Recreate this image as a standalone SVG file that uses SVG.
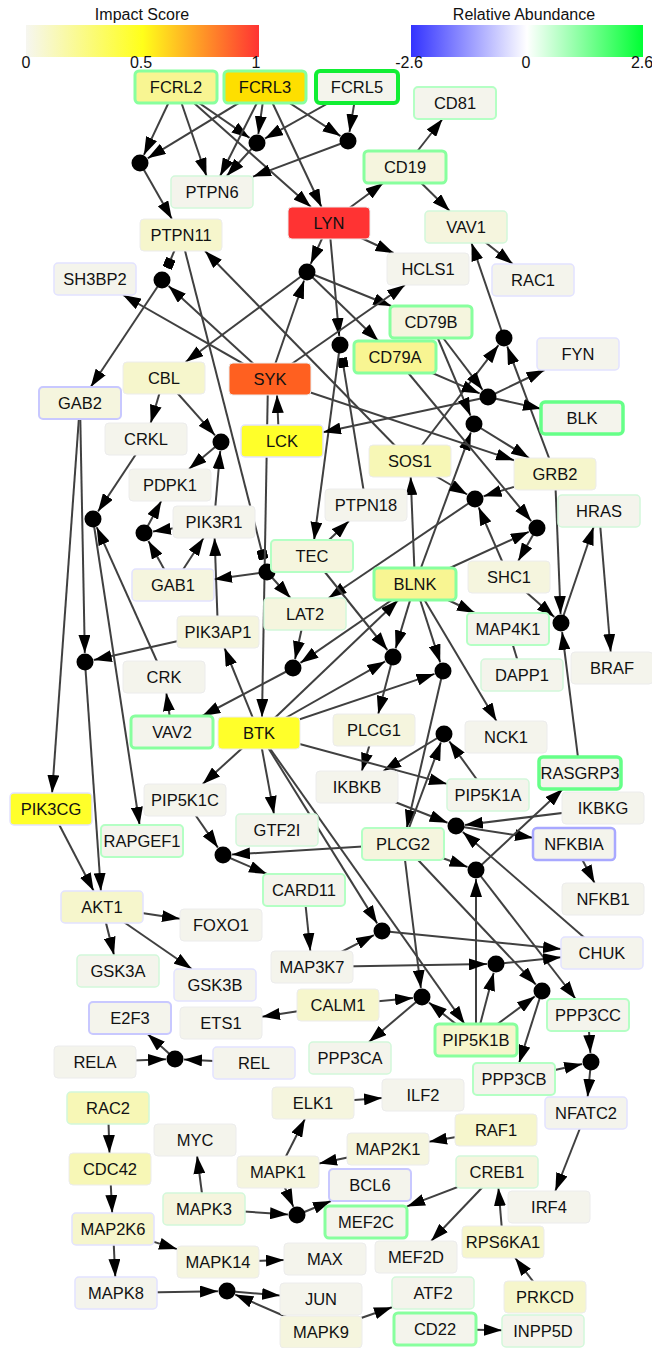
<svg xmlns="http://www.w3.org/2000/svg" width="652" height="1348" viewBox="0 0 652 1348">
<defs>
<linearGradient id="gImpact" x1="0" y1="0" x2="1" y2="0"><stop offset="0" stop-color="#f6f6f0"/><stop offset="0.5" stop-color="#ffff1a"/><stop offset="1" stop-color="#ff3333"/></linearGradient>
<linearGradient id="gAbund" x1="0" y1="0" x2="1" y2="0"><stop offset="0" stop-color="#3333ff"/><stop offset="0.5" stop-color="#ffffff"/><stop offset="1" stop-color="#00ff33"/></linearGradient>
<marker id="a" viewBox="0 0 18 12" refX="18" refY="6" markerWidth="18" markerHeight="12" markerUnits="userSpaceOnUse" orient="auto"><path d="M0,0 L18,6 L0,12 z" fill="#000"/></marker>
<marker id="sq" viewBox="-10 -5 10 10" refX="0" refY="0" markerWidth="10" markerHeight="10" markerUnits="userSpaceOnUse" orient="auto"><rect x="-10" y="-5" width="10" height="10" fill="#000"/></marker>
</defs>
<style>
text{font-family:"Liberation Sans",Arial,sans-serif;fill:#111}
.lg{font-size:16px;text-anchor:middle}
.node text{font-size:16.5px;text-anchor:middle}
.e line{stroke:#404040;stroke-width:2;fill:none;marker-end:url(#a)}
.e line.s{marker-end:url(#sq)}
.e line.n{marker-end:none}
.e circle{fill:#000}
.node rect{rx:4;ry:4}
.f0{fill:#f4f4ec}.fb{fill:#f5f5de}.fc{fill:#f6f6cc}.fd{fill:#f7f7b6}.fy{fill:#f8f592}.fg{fill:#fedf00}.fY{fill:#ffff2a}.fo{fill:#ff6020}.fr{fill:#ff3333}
.b0{stroke:#ececec;stroke-width:1}
.g1{stroke:#d2f8da;stroke-width:1.5}
.g2{stroke:#b4ffc4;stroke-width:2}
.g3{stroke:#88ff9e;stroke-width:3}
.g4{stroke:#66ff88;stroke-width:3.5}
.g5{stroke:#11ee33;stroke-width:4}
.u1{stroke:#e2e2ff;stroke-width:1.5}
.u2{stroke:#c8c8ff;stroke-width:2}
.u3{stroke:#a8a8ff;stroke-width:2.5}
</style>
<rect x="0" y="0" width="652" height="1348" fill="#ffffff"/>
<g id="legend">
<text class="lg" x="142" y="20">Impact Score</text>
<rect x="26" y="25" width="233" height="32" fill="url(#gImpact)"/>
<text class="lg" x="26" y="68">0</text>
<text class="lg" x="141" y="68">0.5</text>
<text class="lg" x="256" y="68">1</text>
<text class="lg" x="524" y="20">Relative Abundance</text>
<rect x="411" y="25" width="232" height="32" fill="url(#gAbund)"/>
<text class="lg" x="409" y="68">-2.6</text>
<text class="lg" x="526" y="68">0</text>
<text class="lg" x="642" y="68">2.6</text>
</g>
<g id="connectors" class="e">
<line x1="176" y1="87" x2="143.9" y2="154.9"/>
<line x1="265" y1="87" x2="147.7" y2="158.3"/>
<line x1="140" y1="163" x2="171.9" y2="219"/>
<line x1="176" y1="87" x2="206.5" y2="176"/>
<line x1="176" y1="87" x2="249.6" y2="137.9"/>
<line x1="176" y1="87" x2="311" y2="207"/>
<line x1="265" y1="87" x2="258.3" y2="134.1"/>
<line x1="265" y1="87" x2="220.1" y2="176"/>
<line x1="257" y1="143" x2="226.7" y2="176"/>
<line x1="265" y1="87" x2="321.5" y2="207"/>
<line x1="265" y1="87" x2="340.5" y2="136.1"/>
<line x1="357" y1="87" x2="264.9" y2="138.6"/>
<line x1="357" y1="87" x2="349.5" y2="132.1"/>
<line x1="348" y1="141" x2="253" y2="176.6"/>
<line x1="329" y1="223" x2="383.3" y2="183"/>
<line x1="405" y1="167" x2="442.5" y2="119"/>
<line x1="405" y1="167" x2="449.7" y2="211"/>
<line x1="466" y1="227" x2="512.8" y2="264"/>
<line x1="329" y1="223" x2="393.6" y2="253"/>
<line x1="329" y1="223" x2="310.7" y2="263.8"/>
<line x1="329" y1="223" x2="339.2" y2="336"/>
<line x1="504" y1="338" x2="471.5" y2="243"/>
<line x1="270" y1="379" x2="123" y2="295"/>
<line x1="270" y1="379" x2="168.6" y2="286.1"/>
<line class="s" x1="181" y1="235" x2="167.1" y2="268"/>
<line x1="162" y1="280" x2="90.7" y2="387"/>
<line x1="270" y1="379" x2="304.1" y2="280.5"/>
<line x1="307" y1="272" x2="185.6" y2="362"/>
<line x1="307" y1="272" x2="391.3" y2="306"/>
<line x1="307" y1="272" x2="378.4" y2="341"/>
<line x1="270" y1="379" x2="405" y2="285"/>
<line class="s" x1="366" y1="505" x2="342.1" y2="357.8"/>
<line x1="340" y1="345" x2="314.1" y2="540"/>
<line class="s" x1="181" y1="235" x2="263.8" y2="559.4"/>
<line x1="410" y1="461" x2="498.5" y2="345.2"/>
<line x1="555" y1="474" x2="507.2" y2="346.4"/>
<line x1="431" y1="322" x2="482.6" y2="389.8"/>
<line x1="395" y1="357" x2="479.7" y2="393.4"/>
<line x1="488" y1="397" x2="544.5" y2="370"/>
<line x1="488" y1="397" x2="541" y2="408.8"/>
<line x1="488" y1="397" x2="323" y2="432.2"/>
<line x1="431" y1="322" x2="470.5" y2="415.7"/>
<line x1="415" y1="584" x2="470.9" y2="432.4"/>
<line x1="395" y1="357" x2="531.2" y2="521.1"/>
<line x1="415" y1="584" x2="528.8" y2="531.8"/>
<line x1="537" y1="528" x2="518.2" y2="561"/>
<line x1="410" y1="461" x2="467.2" y2="494.5"/>
<line x1="555" y1="474" x2="483.6" y2="496.3"/>
<line x1="509" y1="577" x2="478.6" y2="507.3"/>
<line x1="475" y1="499" x2="328.6" y2="598"/>
<line x1="555" y1="474" x2="560.6" y2="614"/>
<line x1="509" y1="577" x2="554.3" y2="617"/>
<line x1="580" y1="773" x2="562.1" y2="631.9"/>
<line x1="561" y1="623" x2="593.6" y2="527"/>
<line x1="599" y1="511" x2="610.7" y2="652"/>
<line x1="279" y1="441" x2="277" y2="395"/>
<line x1="268" y1="379" x2="262" y2="717"/>
<line x1="164" y1="378" x2="215" y2="435.3"/>
<line x1="214" y1="522" x2="220.2" y2="451"/>
<line x1="221" y1="442" x2="189" y2="469"/>
<line x1="164" y1="378" x2="150.7" y2="423"/>
<line x1="146" y1="439" x2="98" y2="511.5"/>
<line x1="164" y1="677" x2="96.7" y2="527.2"/>
<line x1="93" y1="519" x2="139.6" y2="825"/>
<line x1="214" y1="522" x2="152.9" y2="531.6"/>
<line x1="144" y1="533" x2="161.3" y2="501"/>
<line x1="173" y1="585" x2="148.4" y2="540.9"/>
<line x1="173" y1="585" x2="203.6" y2="538"/>
<line x1="218" y1="632" x2="214.6" y2="538"/>
<line x1="267" y1="572" x2="214" y2="579.3"/>
<line x1="267" y1="572" x2="290.5" y2="598"/>
<line x1="312" y1="556" x2="349" y2="521"/>
<line x1="312" y1="556" x2="387.4" y2="650"/>
<line x1="305" y1="614" x2="295" y2="659.2"/>
<line x1="415" y1="584" x2="300.4" y2="662.9"/>
<line x1="293" y1="668" x2="202.3" y2="716"/>
<line x1="415" y1="584" x2="410.7" y2="477"/>
<line x1="415" y1="584" x2="474.9" y2="613"/>
<line x1="415" y1="584" x2="496.5" y2="721"/>
<line x1="415" y1="584" x2="395.6" y2="648.4"/>
<line x1="415" y1="584" x2="440.2" y2="662.4"/>
<line x1="259" y1="733" x2="398.3" y2="600"/>
<line x1="259" y1="733" x2="385.2" y2="661.4"/>
<line x1="259" y1="733" x2="434.5" y2="673.9"/>
<line x1="259" y1="733" x2="224.5" y2="648"/>
<line x1="393" y1="657" x2="378.2" y2="714"/>
<line x1="443" y1="671" x2="406.7" y2="828"/>
<line x1="403" y1="844" x2="440.9" y2="742.4"/>
<line x1="488" y1="795" x2="449.3" y2="741.3"/>
<line x1="444" y1="734" x2="383.3" y2="771"/>
<line x1="374" y1="730" x2="361.8" y2="771"/>
<line x1="259" y1="733" x2="447" y2="783.9"/>
<line x1="357" y1="787" x2="447.6" y2="822.7"/>
<line x1="603" y1="808" x2="464.9" y2="824.9"/>
<line x1="456" y1="826" x2="533" y2="837.8"/>
<line x1="602" y1="953" x2="462.8" y2="831.9"/>
<line x1="574" y1="844" x2="594.6" y2="883"/>
<line x1="403" y1="844" x2="467.5" y2="867"/>
<line x1="476" y1="1040" x2="476" y2="879"/>
<line x1="476" y1="870" x2="562.8" y2="789"/>
<line x1="185" y1="800" x2="217.9" y2="847.6"/>
<line x1="403" y1="844" x2="232" y2="854.5"/>
<line x1="223" y1="855" x2="267" y2="874"/>
<line x1="259" y1="733" x2="202.7" y2="784"/>
<line x1="259" y1="733" x2="274" y2="814"/>
<line x1="259" y1="733" x2="377.2" y2="923.4"/>
<line x1="259" y1="733" x2="464.7" y2="1024"/>
<line x1="403" y1="844" x2="420.9" y2="988.1"/>
<line x1="403" y1="844" x2="535.8" y2="984.5"/>
<line x1="476" y1="870" x2="575.7" y2="999"/>
<line x1="382" y1="931" x2="561" y2="948.9"/>
<line x1="496" y1="964" x2="561" y2="957.3"/>
<line x1="312" y1="967" x2="487" y2="964.1"/>
<line x1="476" y1="1040" x2="493.7" y2="972.7"/>
<line x1="476" y1="1040" x2="534.8" y2="996.4"/>
<line x1="542" y1="991" x2="519.1" y2="1063"/>
<line x1="588" y1="1015" x2="590.4" y2="1053"/>
<line x1="514" y1="1079" x2="582.2" y2="1063.9"/>
<line x1="591" y1="1062" x2="587.6" y2="1097"/>
<line x1="304" y1="890" x2="310.3" y2="951"/>
<line x1="312" y1="967" x2="374" y2="935.1"/>
<line x1="338" y1="1005" x2="413" y2="997.9"/>
<line x1="422" y1="997" x2="368.9" y2="1042"/>
<line x1="476" y1="1040" x2="429" y2="1002.6"/>
<line x1="338" y1="1005" x2="262" y2="1016.7"/>
<line x1="95" y1="1062" x2="166" y2="1059.3"/>
<line x1="254" y1="1063" x2="184" y2="1059.5"/>
<line x1="175" y1="1059" x2="147.6" y2="1034"/>
<line x1="51" y1="809" x2="93.7" y2="891"/>
<line x1="85" y1="662" x2="100.9" y2="891"/>
<line x1="80" y1="403" x2="52.1" y2="793"/>
<line x1="80" y1="403" x2="84.8" y2="653"/>
<line x1="218" y1="632" x2="93.8" y2="660"/>
<line x1="102" y1="907" x2="180" y2="918.8"/>
<line x1="102" y1="907" x2="114" y2="955"/>
<line x1="102" y1="907" x2="191.8" y2="969"/>
<line x1="172" y1="732" x2="166.3" y2="693"/>
<line class="n" x1="508" y1="629" x2="522" y2="675"/>
<line x1="270" y1="379" x2="514" y2="460.3"/>
<line x1="474" y1="424" x2="529.1" y2="458"/>
<line x1="410" y1="461" x2="205" y2="251"/>
<line x1="108" y1="1108" x2="109.5" y2="1153"/>
<line x1="110" y1="1169" x2="112.2" y2="1213"/>
<line x1="113" y1="1229" x2="115.3" y2="1277"/>
<line x1="113" y1="1229" x2="177" y2="1249.1"/>
<line x1="218" y1="1262" x2="284" y2="1260.1"/>
<line x1="116" y1="1293" x2="218" y2="1291.2"/>
<line x1="227" y1="1291" x2="280" y2="1295.5"/>
<line x1="321" y1="1332" x2="235.2" y2="1294.6"/>
<line x1="321" y1="1332" x2="392" y2="1307.3"/>
<line x1="204" y1="1209" x2="197.1" y2="1156"/>
<line x1="204" y1="1209" x2="288" y2="1214.4"/>
<line x1="278" y1="1172" x2="293.4" y2="1206.8"/>
<line x1="297" y1="1215" x2="331" y2="1201"/>
<line x1="278" y1="1172" x2="304.9" y2="1119"/>
<line x1="388" y1="1149" x2="319" y2="1163.4"/>
<line x1="496" y1="1130" x2="429" y2="1141.8"/>
<line x1="313" y1="1103" x2="382" y2="1098"/>
<line x1="497" y1="1172" x2="407" y2="1206.4"/>
<line x1="497" y1="1172" x2="431.2" y2="1241"/>
<line x1="503" y1="1242" x2="498.4" y2="1188"/>
<line x1="545" y1="1297" x2="515.2" y2="1258"/>
<line x1="586" y1="1113" x2="555.3" y2="1191"/>
<line x1="435" y1="1329" x2="502" y2="1330.2"/>
<circle cx="140" cy="163" r="8.5"/>
<circle cx="257" cy="143" r="8.5"/>
<circle cx="348" cy="141" r="8.5"/>
<circle cx="162" cy="280" r="8.5"/>
<circle cx="307" cy="272" r="8.5"/>
<circle cx="340" cy="345" r="8.5"/>
<circle cx="504" cy="338" r="8.5"/>
<circle cx="488" cy="397" r="8.5"/>
<circle cx="474" cy="424" r="8.5"/>
<circle cx="221" cy="442" r="8.5"/>
<circle cx="93" cy="519" r="8.5"/>
<circle cx="144" cy="533" r="8.5"/>
<circle cx="267" cy="572" r="8.5"/>
<circle cx="475" cy="499" r="8.5"/>
<circle cx="537" cy="528" r="8.5"/>
<circle cx="561" cy="623" r="8.5"/>
<circle cx="85" cy="662" r="8.5"/>
<circle cx="293" cy="668" r="8.5"/>
<circle cx="393" cy="657" r="8.5"/>
<circle cx="443" cy="671" r="8.5"/>
<circle cx="444" cy="734" r="8.5"/>
<circle cx="456" cy="826" r="8.5"/>
<circle cx="476" cy="870" r="8.5"/>
<circle cx="223" cy="855" r="8.5"/>
<circle cx="382" cy="931" r="8.5"/>
<circle cx="496" cy="964" r="8.5"/>
<circle cx="422" cy="997" r="8.5"/>
<circle cx="542" cy="991" r="8.5"/>
<circle cx="591" cy="1062" r="8.5"/>
<circle cx="175" cy="1059" r="8.5"/>
<circle cx="297" cy="1215" r="8.5"/>
<circle cx="227" cy="1291" r="8.5"/>
</g>
<g id="nodes">
<g id="n-FCRL2" class="node"><rect class="fy g3" x="135" y="71" width="82" height="32"/><text x="176" y="93">FCRL2</text></g>
<g id="n-FCRL3" class="node"><rect class="fg g3" x="224" y="71" width="82" height="32"/><text x="265" y="93">FCRL3</text></g>
<g id="n-FCRL5" class="node"><rect class="f0 g5" x="316" y="71" width="82" height="32"/><text x="357" y="93">FCRL5</text></g>
<g id="n-CD81" class="node"><rect class="f0 g2" x="414" y="87" width="82" height="32"/><text x="455" y="109">CD81</text></g>
<g id="n-CD19" class="node"><rect class="fb g3" x="364" y="151" width="82" height="32"/><text x="405" y="173">CD19</text></g>
<g id="n-PTPN6" class="node"><rect class="f0 g1" x="171" y="176" width="82" height="32"/><text x="212" y="198">PTPN6</text></g>
<g id="n-LYN" class="node"><rect class="fr b0" x="288" y="207" width="82" height="32"/><text x="329" y="229">LYN</text></g>
<g id="n-VAV1" class="node"><rect class="fb g1" x="425" y="211" width="82" height="32"/><text x="466" y="233">VAV1</text></g>
<g id="n-PTPN11" class="node"><rect class="fc b0" x="140" y="219" width="82" height="32"/><text x="181" y="241">PTPN11</text></g>
<g id="n-SH3BP2" class="node"><rect class="f0 u1" x="54" y="263" width="82" height="32"/><text x="95" y="285">SH3BP2</text></g>
<g id="n-HCLS1" class="node"><rect class="f0 b0" x="387" y="253" width="82" height="32"/><text x="428" y="275">HCLS1</text></g>
<g id="n-RAC1" class="node"><rect class="f0 u1" x="492" y="264" width="82" height="32"/><text x="533" y="286">RAC1</text></g>
<g id="n-CD79B" class="node"><rect class="fb g3" x="390" y="306" width="82" height="32"/><text x="431" y="328">CD79B</text></g>
<g id="n-CD79A" class="node"><rect class="fy g3" x="354" y="341" width="82" height="32"/><text x="395" y="363">CD79A</text></g>
<g id="n-FYN" class="node"><rect class="f0 u1" x="537" y="338" width="82" height="32"/><text x="578" y="360">FYN</text></g>
<g id="n-BLK" class="node"><rect class="f0 g4" x="541" y="402" width="82" height="32"/><text x="582" y="424">BLK</text></g>
<g id="n-CBL" class="node"><rect class="fc b0" x="123" y="362" width="82" height="32"/><text x="164" y="384">CBL</text></g>
<g id="n-SYK" class="node"><rect class="fo b0" x="229" y="363" width="82" height="32"/><text x="270" y="385">SYK</text></g>
<g id="n-GAB2" class="node"><rect class="fb u2" x="39" y="387" width="82" height="32"/><text x="80" y="409">GAB2</text></g>
<g id="n-CRKL" class="node"><rect class="f0 b0" x="105" y="423" width="82" height="32"/><text x="146" y="445">CRKL</text></g>
<g id="n-LCK" class="node"><rect class="fY u1" x="241" y="425" width="82" height="32"/><text x="282" y="447">LCK</text></g>
<g id="n-SOS1" class="node"><rect class="fd b0" x="369" y="445" width="82" height="32"/><text x="410" y="467">SOS1</text></g>
<g id="n-GRB2" class="node"><rect class="fc b0" x="514" y="458" width="82" height="32"/><text x="555" y="480">GRB2</text></g>
<g id="n-PDPK1" class="node"><rect class="f0 b0" x="129" y="469" width="82" height="32"/><text x="170" y="491">PDPK1</text></g>
<g id="n-PTPN18" class="node"><rect class="f0 b0" x="325" y="489" width="82" height="32"/><text x="366" y="511">PTPN18</text></g>
<g id="n-HRAS" class="node"><rect class="f0 g1" x="558" y="495" width="82" height="32"/><text x="599" y="517">HRAS</text></g>
<g id="n-PIK3R1" class="node"><rect class="f0 b0" x="173" y="506" width="82" height="32"/><text x="214" y="528">PIK3R1</text></g>
<g id="n-TEC" class="node"><rect class="fb g2" x="271" y="540" width="82" height="32"/><text x="312" y="562">TEC</text></g>
<g id="n-GAB1" class="node"><rect class="fb u1" x="132" y="569" width="82" height="32"/><text x="173" y="591">GAB1</text></g>
<g id="n-SHC1" class="node"><rect class="fb b0" x="468" y="561" width="82" height="32"/><text x="509" y="583">SHC1</text></g>
<g id="n-BLNK" class="node"><rect class="fy g3" x="374" y="568" width="82" height="32"/><text x="415" y="590">BLNK</text></g>
<g id="n-LAT2" class="node"><rect class="fb g1" x="264" y="598" width="82" height="32"/><text x="305" y="620">LAT2</text></g>
<g id="n-PIK3AP1" class="node"><rect class="fb b0" x="177" y="616" width="82" height="32"/><text x="218" y="638">PIK3AP1</text></g>
<g id="n-MAP4K1" class="node"><rect class="f0 g2" x="467" y="613" width="82" height="32"/><text x="508" y="635">MAP4K1</text></g>
<g id="n-DAPP1" class="node"><rect class="f0 g1" x="481" y="659" width="82" height="32"/><text x="522" y="681">DAPP1</text></g>
<g id="n-BRAF" class="node"><rect class="f0 b0" x="571" y="652" width="82" height="32"/><text x="612" y="674">BRAF</text></g>
<g id="n-CRK" class="node"><rect class="f0 b0" x="123" y="661" width="82" height="32"/><text x="164" y="683">CRK</text></g>
<g id="n-VAV2" class="node"><rect class="f0 g3" x="131" y="716" width="82" height="32"/><text x="172" y="738">VAV2</text></g>
<g id="n-BTK" class="node"><rect class="fY b0" x="218" y="717" width="82" height="32"/><text x="259" y="739">BTK</text></g>
<g id="n-PLCG1" class="node"><rect class="fb b0" x="333" y="714" width="82" height="32"/><text x="374" y="736">PLCG1</text></g>
<g id="n-NCK1" class="node"><rect class="f0 b0" x="465" y="721" width="82" height="32"/><text x="506" y="743">NCK1</text></g>
<g id="n-RASGRP3" class="node"><rect class="f0 g4" x="539" y="757" width="82" height="32"/><text x="580" y="779">RASGRP3</text></g>
<g id="n-IKBKB" class="node"><rect class="f0 b0" x="316" y="771" width="82" height="32"/><text x="357" y="793">IKBKB</text></g>
<g id="n-PIP5K1A" class="node"><rect class="f0 g1" x="447" y="779" width="82" height="32"/><text x="488" y="801">PIP5K1A</text></g>
<g id="n-IKBKG" class="node"><rect class="f0 b0" x="562" y="792" width="82" height="32"/><text x="603" y="814">IKBKG</text></g>
<g id="n-PIK3CG" class="node"><rect class="fY u1" x="10" y="793" width="82" height="32"/><text x="51" y="815">PIK3CG</text></g>
<g id="n-PIP5K1C" class="node"><rect class="f0 b0" x="144" y="784" width="82" height="32"/><text x="185" y="806">PIP5K1C</text></g>
<g id="n-GTF2I" class="node"><rect class="f0 g1" x="236" y="814" width="82" height="32"/><text x="277" y="836">GTF2I</text></g>
<g id="n-RAPGEF1" class="node"><rect class="f0 g2" x="101" y="825" width="82" height="32"/><text x="142" y="847">RAPGEF1</text></g>
<g id="n-PLCG2" class="node"><rect class="fb g2" x="362" y="828" width="82" height="32"/><text x="403" y="850">PLCG2</text></g>
<g id="n-NFKBIA" class="node"><rect class="f0 u3" x="533" y="828" width="82" height="32"/><text x="574" y="850">NFKBIA</text></g>
<g id="n-CARD11" class="node"><rect class="f0 g2" x="263" y="874" width="82" height="32"/><text x="304" y="896">CARD11</text></g>
<g id="n-NFKB1" class="node"><rect class="f0 b0" x="562" y="883" width="82" height="32"/><text x="603" y="905">NFKB1</text></g>
<g id="n-AKT1" class="node"><rect class="fc u1" x="61" y="891" width="82" height="32"/><text x="102" y="913">AKT1</text></g>
<g id="n-FOXO1" class="node"><rect class="f0 b0" x="180" y="909" width="82" height="32"/><text x="221" y="931">FOXO1</text></g>
<g id="n-GSK3A" class="node"><rect class="f0 g1" x="77" y="955" width="82" height="32"/><text x="118" y="977">GSK3A</text></g>
<g id="n-MAP3K7" class="node"><rect class="f0 b0" x="271" y="951" width="82" height="32"/><text x="312" y="973">MAP3K7</text></g>
<g id="n-CHUK" class="node"><rect class="f0 u1" x="561" y="937" width="82" height="32"/><text x="602" y="959">CHUK</text></g>
<g id="n-GSK3B" class="node"><rect class="f0 u1" x="174" y="969" width="82" height="32"/><text x="215" y="991">GSK3B</text></g>
<g id="n-CALM1" class="node"><rect class="fc b0" x="297" y="989" width="82" height="32"/><text x="338" y="1011">CALM1</text></g>
<g id="n-E2F3" class="node"><rect class="f0 u2" x="89" y="1002" width="82" height="32"/><text x="130" y="1024">E2F3</text></g>
<g id="n-ETS1" class="node"><rect class="f0 b0" x="180" y="1007" width="82" height="32"/><text x="221" y="1029">ETS1</text></g>
<g id="n-PPP3CC" class="node"><rect class="f0 g2" x="547" y="999" width="82" height="32"/><text x="588" y="1021">PPP3CC</text></g>
<g id="n-PIP5K1B" class="node"><rect class="fc g3" x="435" y="1024" width="82" height="32"/><text x="476" y="1046">PIP5K1B</text></g>
<g id="n-PPP3CA" class="node"><rect class="f0 g1" x="309" y="1042" width="82" height="32"/><text x="350" y="1064">PPP3CA</text></g>
<g id="n-RELA" class="node"><rect class="f0 b0" x="54" y="1046" width="82" height="32"/><text x="95" y="1068">RELA</text></g>
<g id="n-REL" class="node"><rect class="f0 u1" x="213" y="1047" width="82" height="32"/><text x="254" y="1069">REL</text></g>
<g id="n-PPP3CB" class="node"><rect class="f0 g2" x="473" y="1063" width="82" height="32"/><text x="514" y="1085">PPP3CB</text></g>
<g id="n-NFATC2" class="node"><rect class="f0 u1" x="545" y="1097" width="82" height="32"/><text x="586" y="1119">NFATC2</text></g>
<g id="n-ILF2" class="node"><rect class="f0 b0" x="382" y="1079" width="82" height="32"/><text x="423" y="1101">ILF2</text></g>
<g id="n-ELK1" class="node"><rect class="fb b0" x="272" y="1087" width="82" height="32"/><text x="313" y="1109">ELK1</text></g>
<g id="n-RAC2" class="node"><rect class="fd g1" x="67" y="1092" width="82" height="32"/><text x="108" y="1114">RAC2</text></g>
<g id="n-RAF1" class="node"><rect class="fc b0" x="455" y="1114" width="82" height="32"/><text x="496" y="1136">RAF1</text></g>
<g id="n-MYC" class="node"><rect class="f0 b0" x="154" y="1124" width="82" height="32"/><text x="195" y="1146">MYC</text></g>
<g id="n-MAP2K1" class="node"><rect class="fb b0" x="347" y="1133" width="82" height="32"/><text x="388" y="1155">MAP2K1</text></g>
<g id="n-CDC42" class="node"><rect class="fd b0" x="69" y="1153" width="82" height="32"/><text x="110" y="1175">CDC42</text></g>
<g id="n-MAPK1" class="node"><rect class="fb b0" x="237" y="1156" width="82" height="32"/><text x="278" y="1178">MAPK1</text></g>
<g id="n-CREB1" class="node"><rect class="fb g1" x="456" y="1156" width="82" height="32"/><text x="497" y="1178">CREB1</text></g>
<g id="n-BCL6" class="node"><rect class="f0 u2" x="329" y="1169" width="82" height="32"/><text x="370" y="1191">BCL6</text></g>
<g id="n-MAPK3" class="node"><rect class="fb g1" x="163" y="1193" width="82" height="32"/><text x="204" y="1215">MAPK3</text></g>
<g id="n-IRF4" class="node"><rect class="f0 b0" x="508" y="1191" width="82" height="32"/><text x="549" y="1213">IRF4</text></g>
<g id="n-MEF2C" class="node"><rect class="f0 g3" x="325" y="1206" width="82" height="32"/><text x="366" y="1228">MEF2C</text></g>
<g id="n-MAP2K6" class="node"><rect class="fc u1" x="72" y="1213" width="82" height="32"/><text x="113" y="1235">MAP2K6</text></g>
<g id="n-MAPK14" class="node"><rect class="fb b0" x="177" y="1246" width="82" height="32"/><text x="218" y="1268">MAPK14</text></g>
<g id="n-MAX" class="node"><rect class="f0 b0" x="284" y="1243" width="82" height="32"/><text x="325" y="1265">MAX</text></g>
<g id="n-MEF2D" class="node"><rect class="f0 b0" x="375" y="1241" width="82" height="32"/><text x="416" y="1263">MEF2D</text></g>
<g id="n-RPS6KA1" class="node"><rect class="fc b0" x="462" y="1226" width="82" height="32"/><text x="503" y="1248">RPS6KA1</text></g>
<g id="n-MAPK8" class="node"><rect class="f0 u1" x="75" y="1277" width="82" height="32"/><text x="116" y="1299">MAPK8</text></g>
<g id="n-JUN" class="node"><rect class="f0 b0" x="280" y="1283" width="82" height="32"/><text x="321" y="1305">JUN</text></g>
<g id="n-ATF2" class="node"><rect class="f0 g1" x="392" y="1277" width="82" height="32"/><text x="433" y="1299">ATF2</text></g>
<g id="n-PRKCD" class="node"><rect class="fc b0" x="504" y="1281" width="82" height="32"/><text x="545" y="1303">PRKCD</text></g>
<g id="n-MAPK9" class="node"><rect class="fb b0" x="280" y="1316" width="82" height="32"/><text x="321" y="1338">MAPK9</text></g>
<g id="n-CD22" class="node"><rect class="f0 g3" x="394" y="1313" width="82" height="32"/><text x="435" y="1335">CD22</text></g>
<g id="n-INPP5D" class="node"><rect class="f0 g1" x="502" y="1315" width="82" height="32"/><text x="543" y="1337">INPP5D</text></g>
</g>
</svg>
